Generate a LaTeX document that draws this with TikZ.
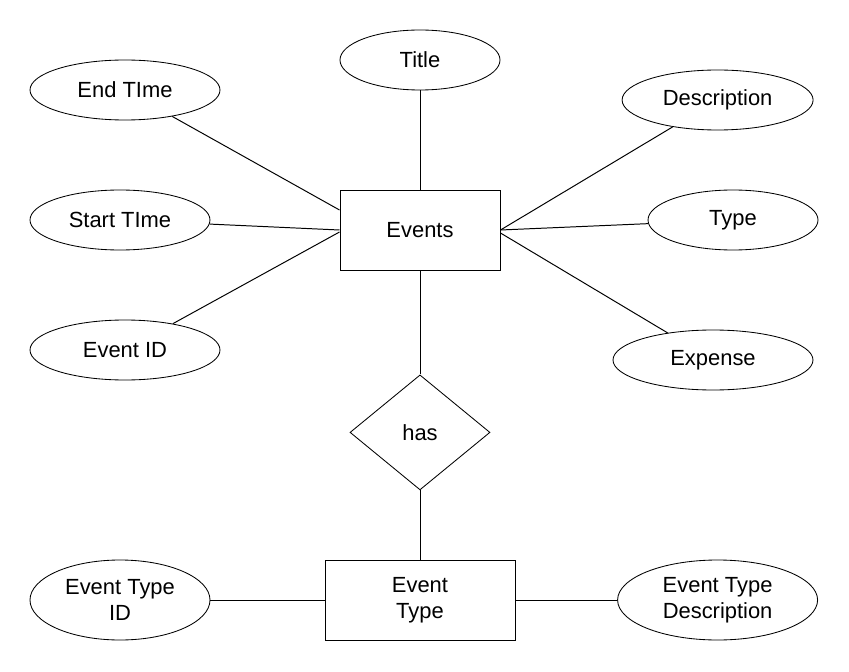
\documentclass[tikz,border=0pt]{standalone}
\usepackage{fontspec}
\setmainfont{Liberation Sans}
\usetikzlibrary{shapes.geometric, positioning}
\tikzstyle{entity} = [rectangle, minimum width=4cm, minimum height=2cm, text centered, align=center, draw=black, line width=0.7pt]
\tikzstyle{attribute} = [ellipse, minimum width=4.75cm, minimum height=1.5cm, inner sep=0pt, text centered, align=center, draw=black, line width=0.6pt]
\tikzstyle{relation} = [diamond, minimum width=3.5cm, minimum height=2.875cm, inner sep=0pt, text centered, draw=black, line width=0.6pt]
\tikzstyle{link} = [line width=0.7pt]

\begin{document}
\begin{tikzpicture}[node distance=7.4cm, font=\fontsize{15.6}{18.3}\selectfont]

    \useasboundingbox (-10.5,-11.025) rectangle (10.725,5.75);

    % Entity and attributes
    \node (events) [entity] {Events};
    \node (title) [attribute, above of=events, node distance=4.25cm, minimum width=4cm] {Title};
    \node (endtime) [attribute, left of=events, node distance=7.375cm, yshift=3.5cm] {End TIme};
    \node (starttime) [attribute, left of=events, node distance=7.5cm, yshift=0.25cm, minimum width=4.5cm] {Start TIme};
    \node (eventid) [attribute, left of=events, node distance=7.375cm, yshift=-3cm] {Event ID};
    \node (description) [attribute, right of=events, node distance=7.44cm, yshift=3.25cm, minimum width=4.775cm] {Description};
    \node (type) [attribute, right of=events, node distance=7.825cm, yshift=0.25cm, minimum width=4.25cm] {Type};
    \node (expense) [attribute, right of=events, node distance=7.325cm, yshift=-3.25cm, minimum width=5cm] {Expense};

    % Relation
    \node (has) [relation, below of=events, node distance=5.06cm] {has};
    \node (eventtype) [entity, below of=has, node distance=4.19cm, minimum width=4.75cm] {Event\\Type};
    \node (eventtypeid) [attribute, left of=eventtype, node distance=7.5cm, minimum width=4.5cm, minimum height=2cm] {Event Type\\ID};
    \node (eventtypedesc) [attribute, right of=eventtype, node distance=7.44cm, minimum width=5cm, minimum height=2cm] {Event Type\\Description};

    % Lines
    \draw [link] (title) -- (events);
    \draw [link] (endtime) -- ([yshift=0.5cm]events.west);
    \draw [link] (starttime) -- (events.west);
    \draw [link] (eventid) -- ([yshift=-0.05cm]events.west);
    \draw [link] (description) -- (events.east);
    \draw [link] (type) -- (events.east);
    \draw [link] (expense) -- ([yshift=-0.075cm]events.east);
    \draw [link] (events) -- (has);
    \draw [link] (has) -- (eventtype);
    \draw [link] (eventtypeid) -- (eventtype);
    \draw [link] (eventtype) -- (eventtypedesc);

\end{tikzpicture}
\end{document}
